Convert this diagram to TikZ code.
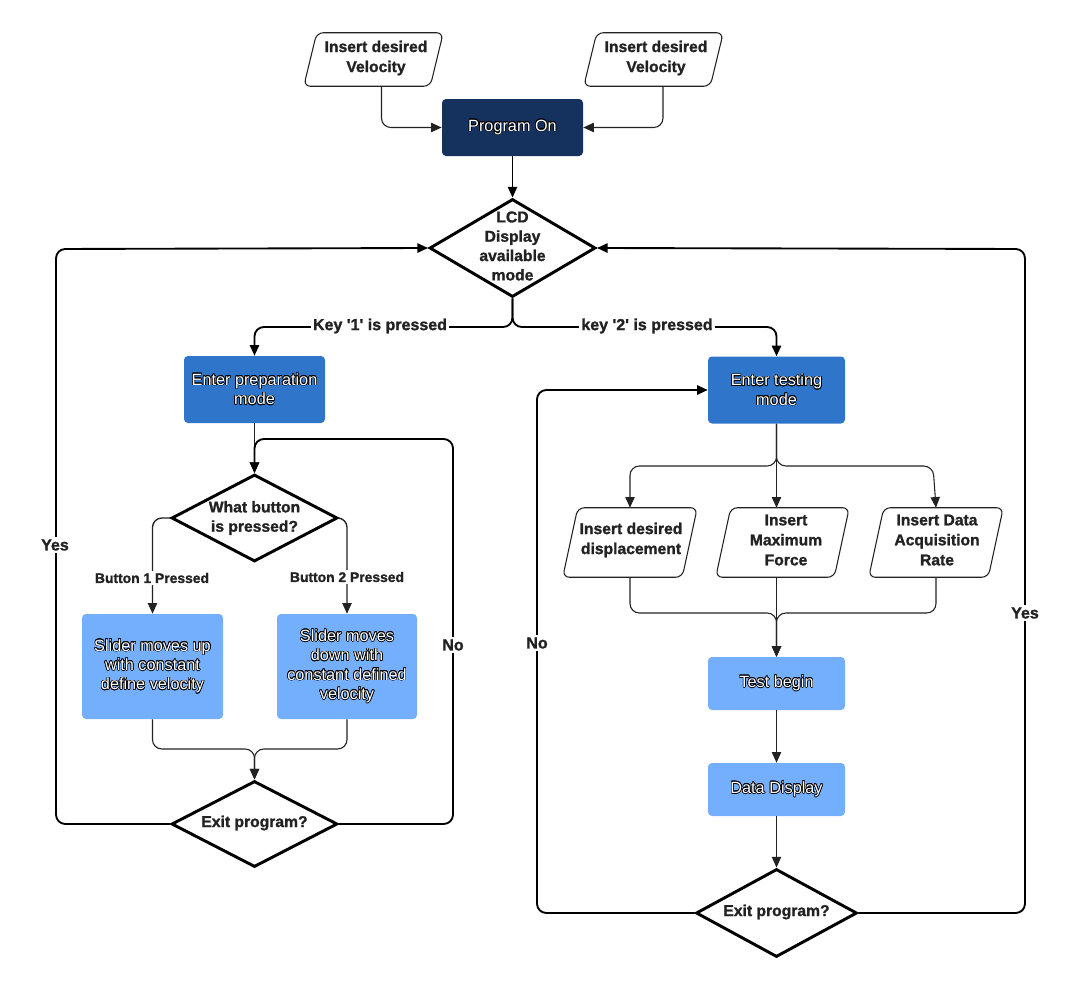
\documentclass[tikz,border=0pt]{standalone}
\usepackage{fontspec}
\setmainfont{Liberation Sans}[BoldFeatures={FakeBold=1.3}]
\usepackage{contour}
\contourlength{0.45pt}
\usetikzlibrary{shapes.geometric,arrows.meta,calc}
\definecolor{navy}{HTML}{15325F}
\definecolor{midblue}{HTML}{2F75C9}
\definecolor{lightblue}{HTML}{74AFFE}
\definecolor{ink}{HTML}{222222}
\newcommand\wt[1]{\contour{black}{#1}}
\begin{document}
\begin{tikzpicture}[x=0.75pt,y=-0.75pt,
 font=\fontsize{11.75}{15}\selectfont,
 box/.style={rectangle, rounded corners=3pt, draw=none, text=white, align=center, inner sep=0pt, font=\fontsize{12.2}{14.5}\selectfont},
 para/.style={rectangle, align=center, inner sep=0pt, font=\fontsize{11.75}{15}\selectfont\bfseries, text=ink},
 paraline/.style={draw=ink, fill=white, line width=0.8pt, rounded corners=5pt},
 dec/.style={diamond, draw=black, line width=2.2pt, inner sep=0pt, fill=white},
 dtext/.style={align=center, font=\fontsize{11.75}{14.5}\selectfont\bfseries, text=ink, inner sep=0pt},
 thin/.style={draw=ink, line width=0.8pt, rounded corners=7pt, -{Triangle[length=8pt,width=7pt]}},
 thick/.style={draw=black, line width=1.4pt, rounded corners=7pt, -{Triangle[length=8pt,width=7pt]}},
 lbl/.style={fill=white, inner sep=1.5pt, font=\fontsize{12}{13}\selectfont\bfseries, text=ink},
 slbl/.style={fill=white, inner sep=1.5pt, font=\fontsize{10.4}{12}\selectfont\bfseries, text=ink},
]
\useasboundingbox (0,0) rectangle (1089,992);

% parallelogram text nodes
\node[para, minimum width=104.25pt, minimum height=39.75pt] (v1) at (373.5,59.5) {};
\node[para, minimum width=104.25pt, minimum height=39.75pt] (v2) at (653.5,59.5) {};
\node[para, minimum width=100.5pt, minimum height=51.75pt] (d1) at (630,542.5) {};
\node[para, minimum width=99.75pt, minimum height=51.75pt] (d2) at (782.5,542.5) {};
\node[para, minimum width=100.5pt, minimum height=51.75pt] (d3) at (936,542.5) {};
\foreach \n/\s in {v1/13,v2/13,d1/15,d2/15,d3/15}{
  \draw[paraline] (\n.south west) -- ($(\n.south east)+(-\s,0)$) -- (\n.north east) -- ($(\n.north west)+(\s,0)$) -- cycle;
}
\node[para] (v1t) at (376,58) {Insert desired\\Velocity};
\node[para] (v2t) at (656,58) {Insert desired\\Velocity};
\node[para] (d1t) at (631,540) {Insert desired\\displacement};
\node[para] (d2t) at (786,540) {Insert\\Maximum\\Force};
\node[para] (d3t) at (937,540) {Insert Data\\Acquisition\\Rate};

% boxes
\node[box, fill=navy, minimum width=105.75pt, minimum height=42.75pt] (prog) at (512.5,127.5) {\wt{Program On}};
\node[box, fill=midblue, minimum width=105.75pt, minimum height=50.25pt] (prep) at (254.5,389.5) {\wt{Enter preparation}\\\wt{mode}};
\node[box, fill=midblue, minimum width=102.75pt, minimum height=50.25pt] (test) at (776.5,390) {\wt{Enter testing}\\\wt{mode}};
\node[box, fill=lightblue, minimum width=105.75pt, minimum height=78.75pt] (sup) at (152.5,666.5) {\wt{Slider moves up}\\\wt{with constant}\\\wt{define velocity}};
\node[box, fill=lightblue, minimum width=105pt, minimum height=78.75pt] (sdown) at (347,666.5) {\wt{Slider moves}\\\wt{down with}\\\wt{constant defined}\\\wt{velocity}};
\node[box, fill=lightblue, minimum width=102.75pt, minimum height=39.75pt] (tb) at (776.5,683.5) {\wt{Test begin}};
\node[box, fill=lightblue, minimum width=102.75pt, minimum height=39.75pt] (dd) at (776.5,789.5) {\wt{Data Display}};

% decisions
\node[dec, minimum width=124.5pt, minimum height=73.5pt] (lcd) at (512.5,248) {};
\node[dtext] (lcdt) at (512.5,246) {LCD\\Display\\available\\mode};
\node[dec, minimum width=124.5pt, minimum height=65.25pt] (what) at (254.5,518) {};
\node[dtext] (whatt) at (254.5,518) {What button\\is pressed?};
\node[dec, minimum width=124.5pt, minimum height=64.5pt] (exit1) at (254.5,824) {};
\node[dtext] (exit1t) at (254.5,823) {Exit program?};
\node[dec, minimum width=120.75pt, minimum height=66pt] (exit2) at (776.5,913) {};
\node[dtext] (exit2t) at (776.5,912) {Exit program?};

% coordinates
\coordinate (k1) at (254.5,327);
\coordinate (k2) at (776.5,327);
\coordinate (n1) at (453,439);
\coordinate (y1) at (56,249);
\coordinate (m1) at (254.5,749);
\coordinate (b1) at (630,466);
\coordinate (b3) at (933,466);
\coordinate (m2) at (776.5,613);
\coordinate (n2) at (537,390);
\coordinate (y2) at (1025,249);

% connectors top
\draw[thin] ($(v1.south)+(8,0)$) |- (prog.west);
\draw[thin] ($(v2.south)+(9.5,0)$) |- (prog.east);
\draw[thin, draw=black, line width=1pt] (prog.south) -- (lcd.north);
\draw[thick] (lcd.south) |- (k1) -- (prep.north);
\draw[thick] (lcd.south) |- (k2) -- (test.north);

% left side
\draw[thin] (prep.south) -- (what.north);
\draw[thick] (exit1.east) -| (n1) -| (what.north);
\draw[thick] (exit1.west) -| (y1) -- (lcd.west);
\draw[thin, line width=1pt] (what.west) -| (sup.north);
\draw[thin, line width=1pt] (what.east) -| (sdown.north);
\draw[thin] (sup.south) |- (m1) -- (exit1.north);
\draw[thin] (sdown.south) |- (m1) -- (exit1.north);

% right side
\draw[thin] (test.south) |- (b1) -- (d1.north);
\draw[thin] (test.south) |- (b3) -- (d3.north);
\draw[thin] (test.south) -- (test.south |- d2.north);
\draw[thin] (d1.south) |- (m2) -- (tb.north);
\draw[thin] (d3.south) |- (m2) -- (tb.north);
\draw[thin] (d2.south -| tb.north) -- (tb.north);
\draw[thin] (tb.south) -- (dd.north);
\draw[thin] (dd.south) -- (exit2.north);
\draw[thick] (exit2.west) -| (n2) -- (test.west);
\draw[thick] (exit2.east) -| (y2) -- (lcd.east);

% labels
\node[lbl] (lk1) at (380,326) {Key \textquotesingle1\textquotesingle\ is pressed};
\node[lbl] (lk2) at (647,326) {key \textquotesingle2\textquotesingle\ is pressed};
\node[slbl] (lb1) at (152,578) {Button 1 Pressed};
\node[slbl] (lb2) at (347,577) {Button 2 Pressed};
\node[lbl] (ly1) at (55,545) {Yes};
\node[lbl] (ln1) at (453,645) {No};
\node[lbl] (ln2) at (537,643) {No};
\node[lbl] (ly2) at (1025,613) {Yes};
\end{tikzpicture}
\end{document}
